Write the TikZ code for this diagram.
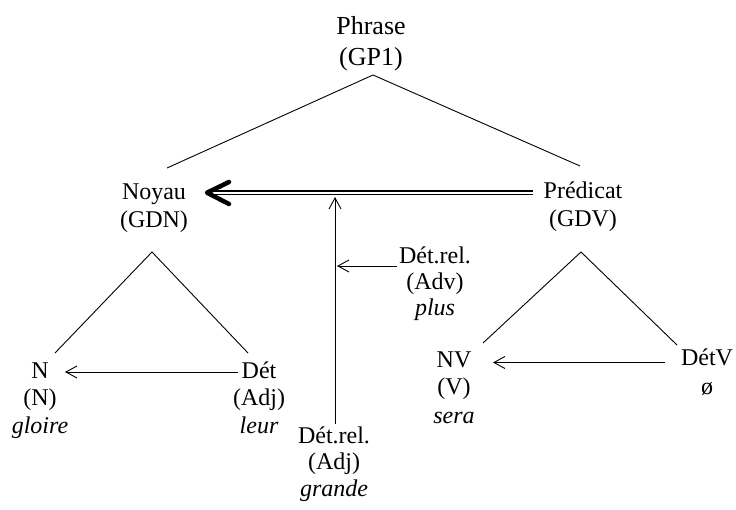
\documentclass[tikz,border=0pt]{standalone}
\usepackage{fontspec}
\setmainfont{Liberation Serif}
\usetikzlibrary{arrows.meta}
\begin{document}
\begin{tikzpicture}[x=1pt,y=-1pt,
  txt/.style={font=\fontsize{24}{27}\selectfont, inner sep=0pt, anchor=base},
  itx/.style={font=\fontsize{24}{27}\selectfont\itshape, inner sep=0pt, anchor=base},
  big/.style={font=\fontsize{26}{31}\selectfont, inner sep=0pt, anchor=base},
  conn/.style={line width=0.9pt},
  arr/.style={conn, -{Straight Barb[length=11pt,width=12pt,line width=0.9pt]}}]
\useasboundingbox (0,0) rectangle (736,510);
% texts
\node[big] (phr1) at (371,35) {Phrase};
\node[big] (phr2) at (371,66) {(GP1)};
\node[txt] (noy1) at (154,200) {Noyau};
\node[txt] (noy2) at (154,228) {(GDN)};
\node[txt] (pre1) at (583,199) {Prédicat};
\node[txt] (pre2) at (583,227) {(GDV)};
\node[txt] (n1) at (40,378.5) {N};
\node[txt] (n2) at (40,406) {(N)};
\node[itx] (n3) at (40,433) {gloire};
\node[txt] (det1) at (259,378.5) {Dét};
\node[txt] (det2) at (259,406) {(Adj)};
\node[itx] (det3) at (259,433) {leur};
\node[txt] (nv1) at (454,367) {NV};
\node[txt] (nv2) at (454,395) {(V)};
\node[itx] (nv3) at (454,423) {sera};
\node[txt] (dv1) at (707,366) {DétV};
\node[txt] (dv2) at (707,394) {ø};
\node[txt] (ra1) at (435,264) {Dét.rel.};
\node[txt] (ra2) at (435,290) {(Adv)};
\node[itx] (ra3) at (435,316) {plus};
\node[txt] (rb1) at (334,443.5) {Dét.rel.};
\node[txt] (rb2) at (334,469.5) {(Adj)};
\node[itx] (rb3) at (334,496) {grande};
% connector points
\coordinate (apP) at (373,75);
\coordinate (noyT) at (167,168);
\coordinate (preT) at (580,166);
\coordinate (apN) at (152,252);
\coordinate (nT) at (55,353);
\coordinate (detT) at (248,353);
\coordinate (apV) at (581,252);
\coordinate (nvT) at (483,343);
\coordinate (dvT) at (677,345);
\coordinate (dblR) at (533,192.7);
\coordinate (tip) at (207,192.7);
\coordinate (dblL) at (213,192.7);
\coordinate (armA) at (229,182);
\coordinate (armB) at (229,204);
\coordinate (vB) at (335,424);
\coordinate (vT) at (335,197);
\coordinate (hR) at (397,266);
\coordinate (hL) at (337,266);
\coordinate (aR) at (238,372);
\coordinate (aL) at (65,372);
\coordinate (bR) at (665,362.5);
\coordinate (bL) at (493,362.5);
% tree lines
\draw[conn] (noyT) -- (apP) -- (preT);
\draw[conn] (nT) -- (apN) -- (detT);
\draw[conn] (nvT) -- (apV) -- (dvT);
% double arrow
\draw[line width=1.8pt, double, double distance=2pt] (dblR) -- (dblL);
\draw[line width=4.5pt, line cap=round, line join=round] (armA) -- (tip) -- (armB);
% thin arrows
\draw[arr] (vB) -- (vT);
\draw[arr] (hR) -- (hL);
\draw[arr] (aR) -- (aL);
\draw[arr] (bR) -- (bL);
\end{tikzpicture}
\end{document}
